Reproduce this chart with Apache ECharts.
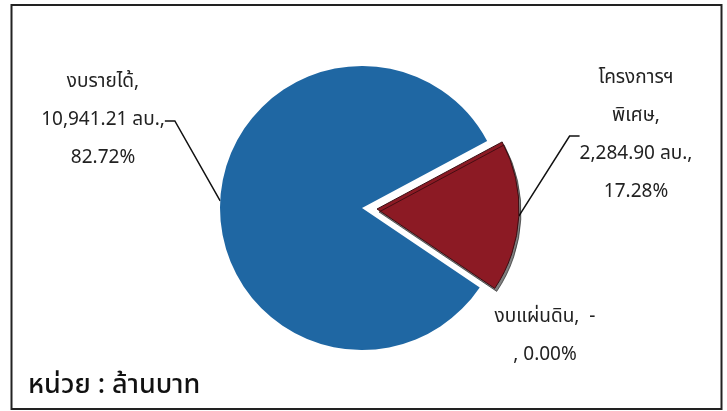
<!DOCTYPE html>
<html>
<head>
<meta charset="utf-8">
<script src="https://cdn.jsdelivr.net/npm/echarts@6/dist/echarts.min.js"></script>
<style>
  html, body { margin: 0; padding: 0; background: #fff; }
  #chart { width: 727px; height: 411px; }
</style>
</head>
<body>
<div id="chart"></div>
<script>
// budget split, unit: million baht
const names = ['งบรายได้', 'โครงการฯ\nพิเศษ', 'งบแผ่นดิน']
const values = [10941.21, 2284.90, 0]
const colors = ['#1f67a3', '#8c1a24', '#7f9c3c']
const unitText = 'หน่วย : ล้านบาท'

// the exploded slice
const pulledIndex = 1

// where each label block sits (centre of the text)
const labelSpots = [[103, 121], [636, 136], [545, 337]]

const thaiFont = 'Tahoma, "Noto Sans Thai", "Leelawadee UI", "DejaVu Sans", sans-serif'

function labelText(p) {
  const pct = p.percent.toFixed(2) + '%'
  if (p.value === 0) {
    return p.name + ',  -\n, ' + pct
  }
  const v = p.value.toLocaleString('en-US', { minimumFractionDigits: 2, maximumFractionDigits: 2 })
  return p.name + ',\n' + v + ' ลบ.,\n' + pct
}

// pulled == true -> only the exploded slice is visible, else all the others
function buildData(pulled) {
  return names.map((n, i) => {
    const visible = (i === pulledIndex) === pulled
    const item = {
      name: n,
      value: values[i],
      itemStyle: { color: colors[i], opacity: visible ? 1 : 0 },
      label: { show: visible },
      labelLine: { show: visible && values[i] !== 0 }
    }
    if (visible && i === pulledIndex) {
      item.itemStyle.borderColor = '#3b0d12'
      item.itemStyle.borderWidth = 1
      item.itemStyle.shadowColor = 'rgba(0,0,0,0.5)'
      item.itemStyle.shadowOffsetX = 2
      item.itemStyle.shadowOffsetY = 3
      item.itemStyle.shadowBlur = 0
    }
    return item
  })
}

const pieBase = {
  type: 'pie',
  radius: 142,
  startAngle: -34,
  clockwise: true,
  silent: true,
  avoidLabelOverlap: false,
  label: {
    formatter: labelText,
    fontFamily: thaiFont,
    fontSize: 19,
    lineHeight: 38,
    color: '#222',
    align: 'center'
  },
  labelLine: {
    length: 20,
    length2: 10,
    smooth: false,
    lineStyle: { color: '#111', width: 1.5 }
  },
  labelLayout: function (params) {
    const spot = labelSpots[params.dataIndex]
    return {
      x: spot[0],
      y: spot[1],
      align: 'center',
      verticalAlign: 'middle'
    }
  }
}

const chart = echarts.init(document.getElementById('chart'))

chart.setOption({
  animation: false,
  backgroundColor: '#ffffff',
  graphic: [
    {
      type: 'rect',
      shape: { x: 11.5, y: 5, width: 710, height: 404 },
      style: { fill: 'none', stroke: '#222', lineWidth: 2 },
      silent: true
    },
    {
      type: 'text',
      x: 28,
      y: 388,
      style: {
        text: unitText,
        font: '500 27px ' + thaiFont,
        fill: '#111',
        verticalAlign: 'middle'
      }
    }
  ],
  series: [
    Object.assign({}, pieBase, { center: [362, 208], data: buildData(false) }),
    // same slices, shifted right so the pulled one stands out
    Object.assign({}, pieBase, { center: [377, 209], data: buildData(true) })
  ]
})
</script>
</body>
</html>
